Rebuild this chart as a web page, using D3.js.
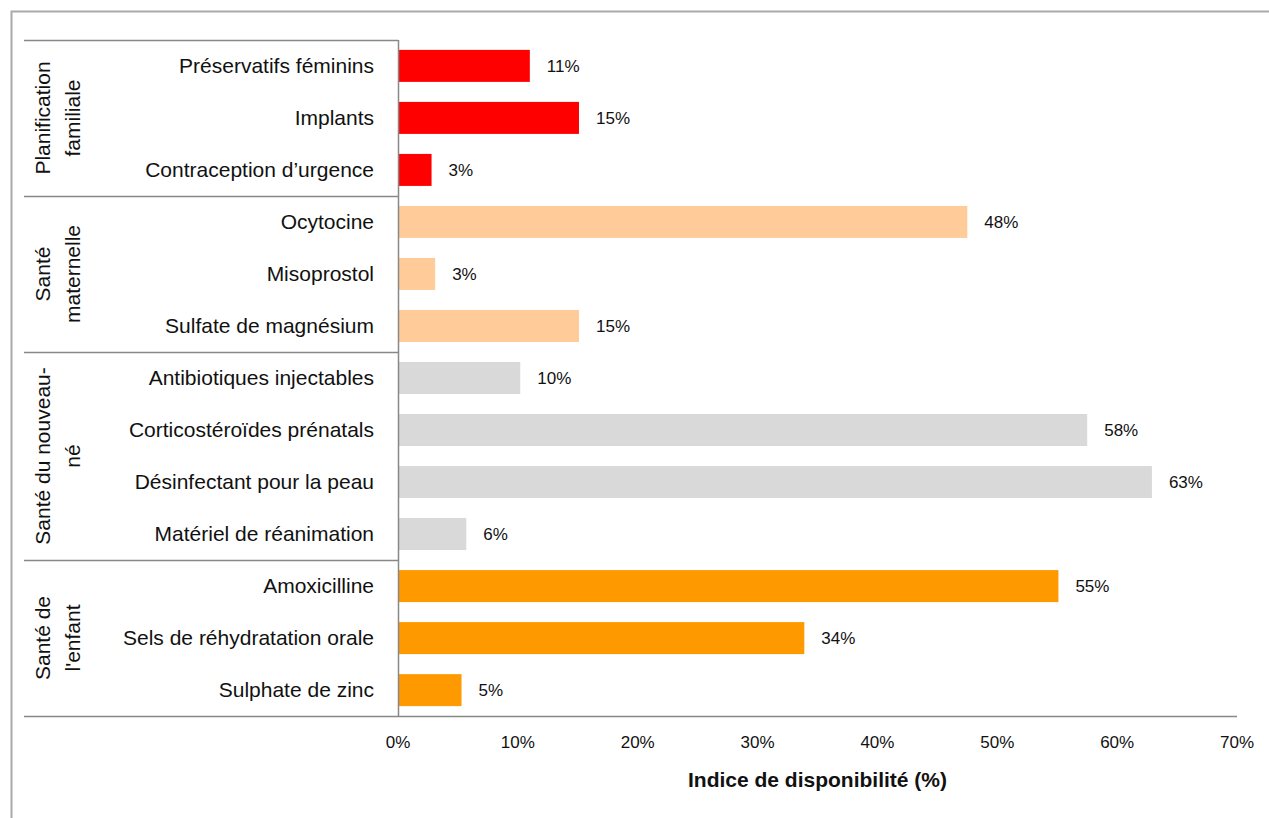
<!DOCTYPE html>
<html>
<head>
<meta charset="utf-8">
<script src="https://cdn.jsdelivr.net/npm/d3@7"></script>
<style>
  body { margin: 0; background: #fff; }
  svg { font-family: "Liberation Sans Narrow", "Arial Narrow", "Liberation Sans", Arial, sans-serif; }
</style>
</head>
<body>
<div id="chart"></div>
<script>
// Données du graphique
const groups = ["Planification familiale", "Santé maternelle", "Santé du nouveau-né", "Santé de l'enfant"];
const groupLines = [["Planification", "familiale"], ["Santé", "maternelle"], ["Santé du nouveau-", "né"], ["Santé de", "l'enfant"]];
const groupColors = ["#ff0000", "#ffcc99", "#d9d9d9", "#ff9900"];
const items = [
    "Préservatifs féminins", "Implants", "Contraception d’urgence",
    "Ocytocine", "Misoprostol", "Sulfate de magnésium",
    "Antibiotiques injectables", "Corticostéroïdes prénatals", "Désinfectant pour la peau", "Matériel de réanimation",
    "Amoxicilline", "Sels de réhydratation orale", "Sulphate de zinc"
];
const itemGroup = [0, 0, 0, 1, 1, 1, 2, 2, 2, 2, 3, 3, 3];
const values = [11.0, 15.1, 2.8, 47.5, 3.1, 15.1, 10.2, 57.5, 62.9, 5.7, 55.1, 33.9, 5.3];
const valueLabels = ["11%", "15%", "3%", "48%", "3%", "15%", "10%", "58%", "63%", "6%", "55%", "34%", "5%"];
const ticks = [0, 10, 20, 30, 40, 50, 60, 70];

const width = 1269, height = 818;
const plotLeft = 398, plotRight = 1237, plotTop = 40, plotBottom = 716;

const svg = d3.select("#chart").append("svg")
    .attr("width", width)
    .attr("height", height);

// cadre extérieur (haut et gauche)
svg.append("path")
    .attr("d", `M11.5,${height} V11.5 H${width}`)
    .attr("fill", "none")
    .attr("stroke", "#aaaaaa")
    .attr("stroke-width", 2);

const x = d3.scaleLinear().domain([0, 70]).range([plotLeft, plotRight]);
const y = d3.scaleBand().domain(items).range([plotTop, plotBottom]).paddingInner(0.385).paddingOuter(0.19);

// barres
svg.selectAll(".bar")
    .data(items)
    .enter().append("rect")
    .attr("x", x(0))
    .attr("y", d => y(d))
    .attr("width", (d, i) => x(values[i]) - x(0))
    .attr("height", y.bandwidth())
    .attr("fill", (d, i) => groupColors[itemGroup[i]]);

// étiquettes de valeur
svg.selectAll(".val")
    .data(items)
    .enter().append("text")
    .attr("x", (d, i) => x(values[i]) + 17)
    .attr("y", d => y(d) + y.bandwidth() / 2)
    .attr("dy", "0.35em")
    .attr("font-size", 17)
    .attr("fill", "#111")
    .text((d, i) => valueLabels[i]);

// noms des produits
svg.selectAll(".cat")
    .data(items)
    .enter().append("text")
    .attr("x", plotLeft - 24)
    .attr("y", d => y(d) + y.bandwidth() / 2)
    .attr("dy", "0.35em")
    .attr("text-anchor", "end")
    .attr("font-size", 21)
    .attr("fill", "#111")
    .text(d => d);

// limites des groupes
const rowStart = idx => plotTop + (plotBottom - plotTop) * idx / items.length;
let bounds = [0];
groups.forEach((g, gi) => {
    bounds.push(bounds[gi] + itemGroup.filter(v => v === gi).length);
});

svg.selectAll(".gline")
    .data(bounds)
    .enter().append("line")
    .attr("x1", 24)
    .attr("x2", plotLeft)
    .attr("y1", d => Math.round(rowStart(d)) + 0.5)
    .attr("y2", d => Math.round(rowStart(d)) + 0.5)
    .attr("stroke", "#888")
    .attr("stroke-width", 1.5);

// axe vertical
svg.append("line")
    .attr("x1", plotLeft + 0.5).attr("x2", plotLeft + 0.5)
    .attr("y1", plotTop).attr("y2", plotBottom)
    .attr("stroke", "#888").attr("stroke-width", 1.5);

// axe horizontal
svg.append("line")
    .attr("x1", plotLeft).attr("x2", plotRight)
    .attr("y1", plotBottom + 0.5).attr("y2", plotBottom + 0.5)
    .attr("stroke", "#888").attr("stroke-width", 1.5);

// libellés des groupes (verticaux)
groups.forEach((g, gi) => {
    const cy = (rowStart(bounds[gi]) + rowStart(bounds[gi + 1])) / 2;
    const t = svg.append("text")
        .attr("transform", `translate(58,${cy}) rotate(-90)`)
        .attr("text-anchor", "middle")
        .attr("font-size", 21)
        .attr("fill", "#111");
    const lines = groupLines[gi];
    lines.forEach((l, li) => {
        t.append("tspan")
            .attr("x", 0)
            .attr("y", (li - (lines.length - 1) / 2) * 30)
            .attr("dy", "0.35em")
            .text(l);
    });
});

// graduations
svg.selectAll(".tick")
    .data(ticks)
    .enter().append("text")
    .attr("x", d => x(d))
    .attr("y", 742)
    .attr("dy", "0.35em")
    .attr("text-anchor", "middle")
    .attr("font-size", 17)
    .attr("fill", "#111")
    .text(d => d + "%");

// titre de l'axe
svg.append("text")
    .attr("x", (plotLeft + plotRight) / 2)
    .attr("y", 780)
    .attr("dy", "0.35em")
    .attr("text-anchor", "middle")
    .attr("font-size", 21)
    .attr("font-weight", "bold")
    .attr("fill", "#111")
    .text("Indice de disponibilité (%)");
</script>
</body>
</html>
